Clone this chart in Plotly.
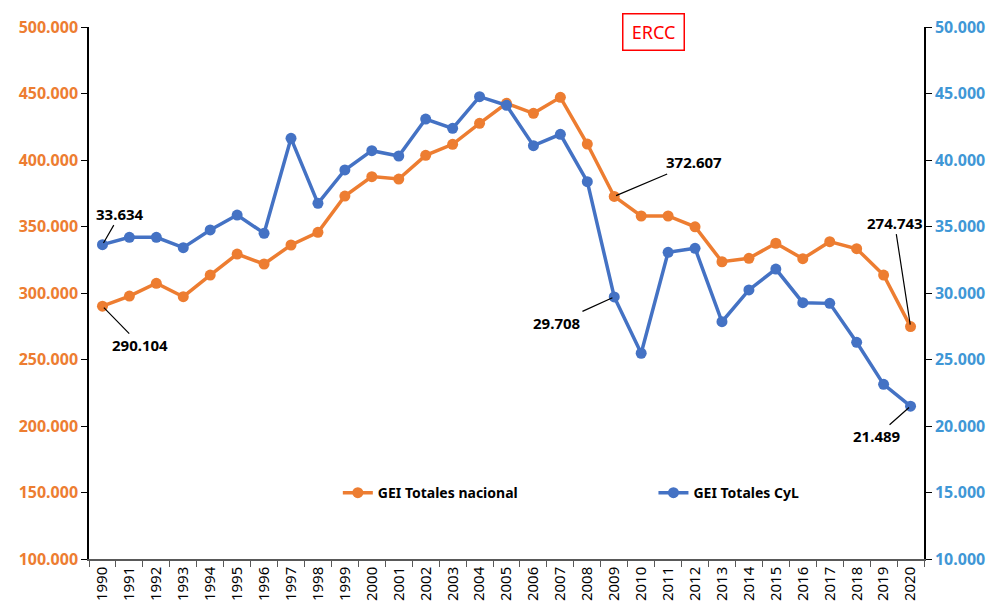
import plotly.graph_objects as go

years = [str(y) for y in range(1990, 2021)]
nacional = [290104, 297700, 307300, 297200, 313500, 329300, 321800, 336100, 345600, 372900,
            387500, 385700, 403500, 411800, 427600, 442600, 435100, 447100, 412000, 372607,
            357900, 357900, 349800, 323500, 326100, 337400, 325800, 338600, 333300, 313500, 274743]
cyl = [33634, 34190, 34190, 33410, 34740, 35860, 34490, 41630, 36740, 39250,
       40700, 40300, 43080, 42380, 44760, 44110, 41080, 41930, 38370, 29708,
       25470, 33060, 33360, 27840, 30230, 31800, 29270, 29220, 26290, 23130, 21489]

ORANGE = "#ED7D31"
BLUE = "#4472C4"
LBLUE = "#3F97D6"
FONT = "Noto Sans"

fig = go.Figure()
fig.add_trace(go.Scatter(x=years, y=nacional, name="GEI Totales nacional", mode="lines+markers",
                         line=dict(color=ORANGE, width=3.5), marker=dict(size=11, color=ORANGE),
                         legend="legend"))
fig.add_trace(go.Scatter(x=years, y=cyl, name="GEI Totales CyL", mode="lines+markers", yaxis="y2",
                         line=dict(color=BLUE, width=3.5), marker=dict(size=11, color=BLUE),
                         legend="legend2"))

# ERCC vertical line
fig.add_shape(type="line", xref="x", yref="paper", x0="2009", x1="2009", y0=-0.008, y1=1.028,
              line=dict(color="#FF0000", width=4))

fig.add_annotation(text="ERCC", xref="paper", yref="paper", x=0.676, y=0.9897,
                   xanchor="center", yanchor="middle", showarrow=False,
                   font=dict(family=FONT, size=18, color="#FF0000"), width=48, height=23,
                   bordercolor="#FF0000", borderwidth=1.5, borderpad=6, bgcolor="white")

lab_font = dict(family=FONT, size=15, color="black", weight="bold")

def lab(text, xi, yv, ax, ay, yref="y"):
    fig.add_annotation(text=text, x=xi, y=yv, xref="x", yref=yref, ax=ax, ay=ay,
                       xanchor="center", yanchor="middle",
                       showarrow=True, arrowhead=0, arrowwidth=1.2, arrowcolor="black",
                       standoff=2, font=lab_font)

lab("33.634", 0, cyl[0], 18, -31, "y2")
lab("290.104", 0, nacional[0], 38, 39)
lab("372.607", 19, nacional[19], 80, -34)
lab("29.708", 19, cyl[19], -57, 26, "y2")
lab("274.743", 30, nacional[30], -16, -104)
lab("21.489", 30, cyl[30], -34, 30, "y2")

leg_font = dict(family=FONT, size=14, color="black", weight="bold")

fig.update_layout(
    width=993, height=612, autosize=False,
    margin=dict(l=89, r=69, t=27, b=53),
    paper_bgcolor="white", plot_bgcolor="white",
    separators=",.",
    showlegend=True,
    legend=dict(orientation="h", x=0.298, y=0.124, xanchor="left", yanchor="middle",
                font=leg_font, itemwidth=30, bgcolor="rgba(0,0,0,0)"),
    legend2=dict(orientation="h", x=0.676, y=0.124, xanchor="left", yanchor="middle",
                 font=leg_font, itemwidth=30, bgcolor="rgba(0,0,0,0)"),
    xaxis=dict(type="category", tickson="boundaries", ticks="outside", ticklen=6,
               tickcolor="#595959", showline=True, linecolor="#595959", linewidth=1.5,
               tickangle=-90, tickfont=dict(family=FONT, size=15, color="black"),
               showgrid=False, range=[-0.5, 30.5], automargin=False),
    yaxis=dict(range=[100000, 500000], dtick=50000, tickformat=",.0f", showgrid=False,
               showline=True, linecolor="black", linewidth=1.5, ticks="outside", ticklen=6,
               tickcolor="black", zeroline=False, automargin=False,
               tickfont=dict(family=FONT, size=16, color=ORANGE, weight="bold")),
    yaxis2=dict(range=[10000, 50000], dtick=5000, tickformat=",.0f", showgrid=False,
                overlaying="y", side="right", automargin=False,
                showline=True, linecolor="black", linewidth=1.5, ticks="outside", ticklen=6,
                tickcolor="black", zeroline=False,
                tickfont=dict(family=FONT, size=16, color=LBLUE, weight="bold")),
)

fig.write_html(
    "out.html",
    config={"responsive": False, "displayModeBar": False},
    post_script="document.body.style.margin='0';document.body.style.overflow='hidden';",
)
